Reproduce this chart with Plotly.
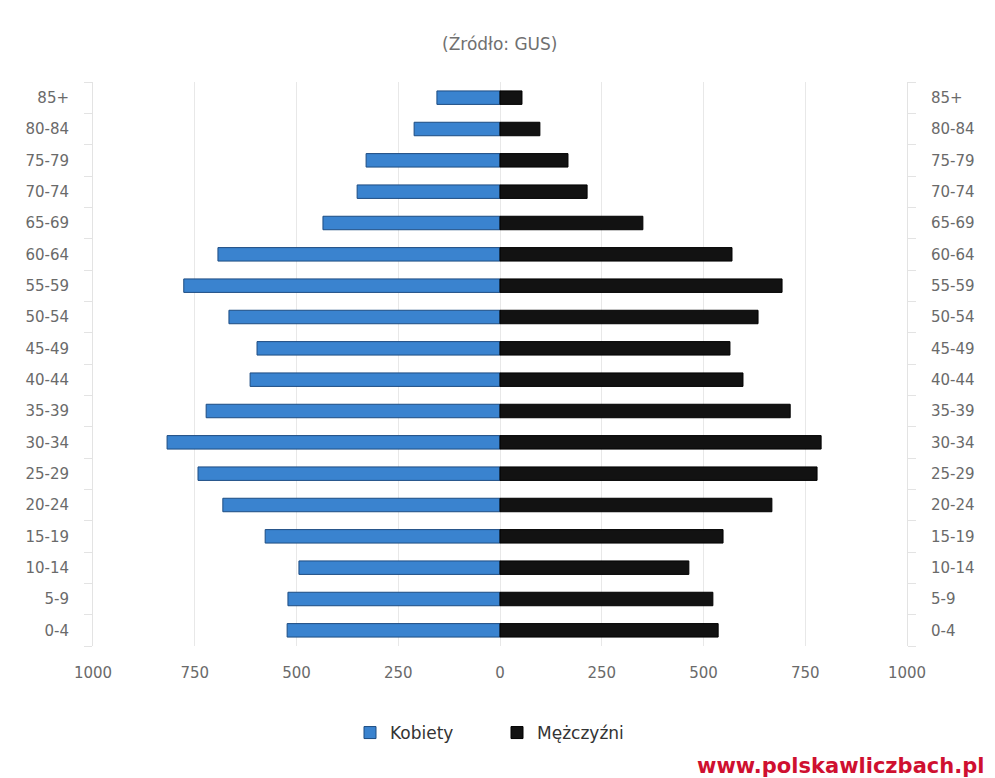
import plotly.graph_objects as go

age_groups = ["0-4", "5-9", "10-14", "15-19", "20-24", "25-29", "30-34", "35-39",
              "40-44", "45-49", "50-54", "55-59", "60-64", "65-69", "70-74",
              "75-79", "80-84", "85+"]
women = [523, 521, 494, 577, 681, 742, 818, 722, 614, 597, 666, 777, 693, 435, 351, 329, 211, 155]
men = [536, 523, 464, 548, 668, 779, 789, 713, 597, 565, 634, 693, 570, 351, 214, 167, 98, 54]

tick_vals = [-1000, -750, -500, -250, 0, 250, 500, 750, 1000]
tick_text = ["1000", "750", "500", "250", "0", "250", "500", "750", "1000"]

font_family = "DejaVu Sans, sans-serif"

W, H = 995, 778
L, R, T, B = 93, 88, 82, 132
PW, PH = W - L - R, H - T - B


def px_x(x):
    return (x - L) / PW


def px_y(y):
    return (H - B - y) / PH


fig = go.Figure()
fig.add_trace(go.Bar(
    y=age_groups, x=[-v for v in women], orientation="h", name="Kobiety",
    marker=dict(color="#3a83cf", line=dict(color="#1d4c82", width=1)),
    yaxis="y", customdata=women,
    hovertemplate="%{y}: %{customdata}<extra>Kobiety</extra>",
))
fig.add_trace(go.Bar(
    y=age_groups, x=men, orientation="h", name="Mężczyźni",
    marker=dict(color="#121212", line=dict(color="#000000", width=1)),
    yaxis="y2",
    hovertemplate="%{y}: %{x}<extra>Mężczyźni</extra>",
))

axis_common = dict(
    type="category", categoryorder="array", categoryarray=age_groups,
    range=[-0.5, len(age_groups) - 0.5],
    showgrid=False, zeroline=False, automargin=False,
    showline=True, linecolor="#e3e3e3", linewidth=1,
    ticks="outside", tickson="boundaries", ticklen=8, tickcolor="#e3e3e3",
    ticklabelstandoff=20,
    tickfont=dict(family=font_family, size=15, color="#6a6a6a"),
)

fig.update_layout(
    width=W, height=H,
    margin=dict(l=L, r=R, t=T, b=B, autoexpand=False),
    paper_bgcolor="white", plot_bgcolor="white",
    barmode="overlay", bargap=0.57,
    font=dict(family=font_family, color="#666666"),
    xaxis=dict(
        range=[-1000, 1000], tickvals=tick_vals, ticktext=tick_text,
        showgrid=True, gridcolor="#e8e8e8", gridwidth=1, automargin=False,
        zeroline=False, showline=False, ticks="", ticklabelstandoff=16,
        tickfont=dict(family=font_family, size=15, color="#6a6a6a"),
    ),
    yaxis=dict(side="left", **axis_common),
    yaxis2=dict(side="right", overlaying="y", **axis_common),
    legend=dict(
        orientation="h", x=px_x(350), xanchor="left", y=px_y(733), yanchor="middle",
        font=dict(family=font_family, size=17, color="#333333"),
        traceorder="normal", entrywidth=102, entrywidthmode="pixels",
    ),
    showlegend=True,
    annotations=[
        dict(text="(Źródło: GUS)", x=px_x(500), y=px_y(43), xref="paper", yref="paper",
             xanchor="center", yanchor="middle",
             showarrow=False, font=dict(family=font_family, size=17, color="#707070")),
        dict(text="<b>www.polskawliczbach.pl</b>", x=px_x(986), y=px_y(766),
             xref="paper", yref="paper", xanchor="right", yanchor="middle",
             showarrow=False, font=dict(family=font_family, size=21, color="#cf1030")),
    ],
)

fig.write_html(
    "out.html",
    config={"displayModeBar": False},
    post_script="document.body.style.margin='0';document.body.style.overflow='hidden';",
)
